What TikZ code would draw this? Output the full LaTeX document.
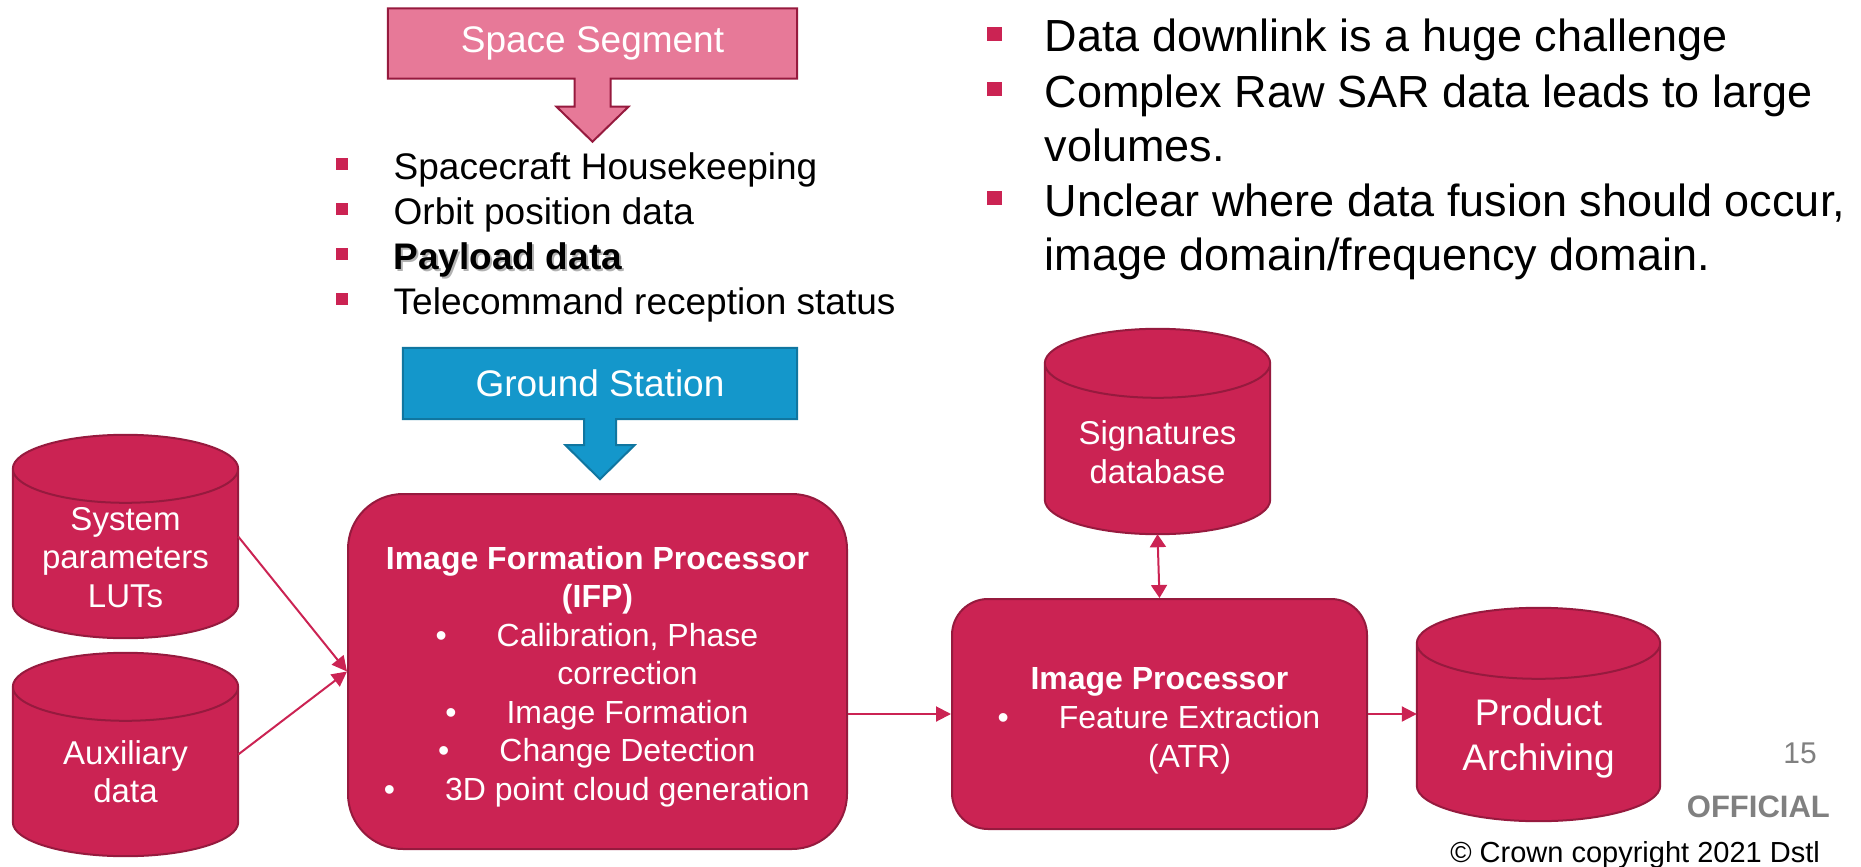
\documentclass[tikz,border=0pt]{standalone}
\usepackage{fontspec}
\setmainfont{Liberation Sans}
\usetikzlibrary{arrows.meta, positioning, calc, backgrounds}

\definecolor{dstlred}{RGB}{203,35,83}
\definecolor{dstledge}{RGB}{150,26,62}
\definecolor{dstlpink}{RGB}{231,121,152}
\definecolor{dstlblue}{RGB}{20,151,203}
\definecolor{dstlblueedge}{RGB}{16,118,160}
\definecolor{dstlgrey}{RGB}{128,128,128}

\newcommand\fs[2]{\fontsize{#1}{#2}\selectfont}
% square bullet and hanging indent for the lists
\newcommand\sqbul{\makebox[57.5pt][l]{\textcolor{dstlred}{\rule[0.24em]{0.32em}{0.32em}}}}
\newcommand\nobul{\hspace*{57.5pt}}
% round bullet inside the processor boxes
\newcommand\rbul{\hspace*{60pt}\llap{\textbullet\hspace{50pt}}}
% taller first line, pushes the text block a little down
\newcommand\topgap[1]{\rule{0pt}{#1}}
\newcommand\shadowtext[1]{\makebox[0pt][l]{\hspace{2pt}\raisebox{-2pt}{\textcolor{black!30}{\textbf{#1}}}}\textbf{#1}}

\begin{document}
\begin{tikzpicture}[x=1pt, y=1pt,
    proc/.style={rectangle, draw=dstledge, line width=2pt, fill=dstlred, text=white, align=center, font=\fs{32}{38.5}},
    dbase/.style={rectangle, minimum width=225pt, text=white, align=center, font=\fs{33}{38.5}},
    dbfill/.style={fill=dstlred, draw=dstledge, line width=2pt},
    callbox/.style={rectangle, minimum height=71pt, text=white, font=\fs{37}{44}},
    listline/.style={anchor=base west, inner sep=0pt},
    footer/.style={anchor=base east, inner sep=0pt},
    arrow/.style={draw=dstlred, line width=2pt, -{Triangle[length=15pt, width=15pt]}},
    darrow/.style={draw=dstlred, line width=2pt, {Triangle[length=13pt, width=16pt]}-{Triangle[length=13pt, width=16pt]}}
  ]
    \useasboundingbox (0,0) rectangle (1861,-867);

    % Top callouts
    \node[callbox, minimum width=409pt, minimum height=70pt] (space) at (592.5,-43.5) {Space Segment};
    \node[callbox, minimum width=394pt] (ground) at (600,-383.5) {Ground Station};

    % Lists
    \node[listline, font=\fs{37}{45}] (hk) at (336,-179) {\sqbul Spacecraft Housekeeping};
    \node[listline, font=\fs{37}{45}] (orb) at (336,-224) {\sqbul Orbit position data};
    \node[listline, font=\fs{37}{45}] (pay) at (336,-269) {\sqbul \shadowtext{Payload data}};
    \node[listline, font=\fs{37}{45}] (tc) at (336,-314) {\sqbul Telecommand reception status};

    \node[listline, font=\fs{45}{54}] (dl) at (987,-52) {\sqbul Data downlink is a huge challenge};
    \node[listline, font=\fs{45}{54}] (cx) at (987,-107) {\sqbul Complex Raw SAR data leads to large};
    \node[listline, font=\fs{45}{54}] (vol) at (987,-161) {\nobul volumes.};
    \node[listline, font=\fs{45}{54}] (uc) at (987,-216) {\sqbul Unclear where data fusion should occur,};
    \node[listline, font=\fs{45}{54}] (dom) at (987,-270) {\nobul image domain/frequency domain.};

    % Data stores
    \node[dbase, minimum height=169pt] (sys) at (125.5,-553.5) {\topgap{31pt}System\\parameters\\LUTs};
    \node[dbase, minimum height=169pt] (aux) at (125.5,-771.5) {Auxiliary\\data};
    \node[dbase, minimum height=170.5pt] (sig) at (1157.5,-448.75) {\topgap{31pt}Signatures\\database};
    \node[dbase, minimum width=243pt, minimum height=177.5pt, font=\fs{37}{45}] (arch) at (1538.5,-732.25) {\topgap{39pt}Product\\Archiving};

    % Processors
    \node[proc, rounded corners=55pt, minimum width=499pt, minimum height=355pt] (ifp) at (597.5,-671.5)
      {\topgap{33pt}\textbf{Image Formation Processor}\\ \textbf{(IFP)}\\ \rbul Calibration, Phase\\ \hspace*{60pt}correction\\
       \rbul Image Formation\\ \rbul Change Detection\\ \rbul 3D point cloud generation};
    \node[proc, rounded corners=36pt, minimum width=415pt, minimum height=230pt, font=\fs{32}{39}] (ip) at (1159.5,-714)
      {\topgap{35pt}\textbf{Image Processor}\\ \rbul Feature Extraction\\ \hspace*{60pt}(ATR)};

    % Footer
    \node[footer, text=dstlgrey, font=\fs{30}{36}] (pgno) at (1817,-763) {15};
    \node[footer, text=dstlgrey, font=\fs{31}{37}\bfseries] (official) at (1830,-817) {OFFICIAL};
    \node[footer, font=\fs{29}{35}] (crown) at (1820,-862) {© Crown copyright 2021 Dstl};

    % Shapes behind the text
    \begin{scope}[on background layer]
      \filldraw[fill=dstlpink, draw=dstledge, line width=2pt] (space.north west) -- (space.south west)
        -- ([xshift=-18pt]space.south) -- ++(0,-28) -- ++(-18,0) -- ([yshift=-63pt]space.south)
        -- ++(36,35) -- ++(-18,0) -- ++(0,28) -- (space.south east) -- (space.north east) -- cycle;
      \filldraw[fill=dstlblue, draw=dstlblueedge, line width=2pt] (ground.north west) -- (ground.south west)
        -- ([xshift=-16pt]ground.south) -- ++(0,-26) -- ++(-18.5,0) -- ([yshift=-60pt]ground.south)
        -- ++(34.5,34) -- ++(-18.5,0) -- ++(0,26) -- (ground.south east) -- (ground.north east) -- cycle;
      \foreach \db/\ry in {sys/34pt, aux/34pt, sig/34.5pt, arch/35.5pt}{
        \filldraw[dbfill] let \p1=(\db.north west), \p2=(\db.south east), \n1={(\x2-\x1)/2} in
          (\p1) -- (\x1,\y2+\ry) arc[start angle=180, end angle=360, x radius=\n1, y radius=\ry]
          -- (\x2,\y1) arc[start angle=0, end angle=180, x radius=\n1, y radius=\ry] -- cycle
          (\p1) arc[start angle=180, end angle=360, x radius=\n1, y radius=\ry];
      }
    \end{scope}

    % Arrows
    \draw[arrow] ([yshift=17pt]sys.east) -- (ifp.west);
    \draw[arrow] ([yshift=17pt]aux.east) -- (ifp.west);
    \draw[arrow] (ifp.east |- ip.west) -- (ip.west);
    \draw[arrow] (ip.east) -- (ip.east -| arch.west);
    \draw[darrow] (sig.south) -- (ip.north);

\end{tikzpicture}
\end{document}
